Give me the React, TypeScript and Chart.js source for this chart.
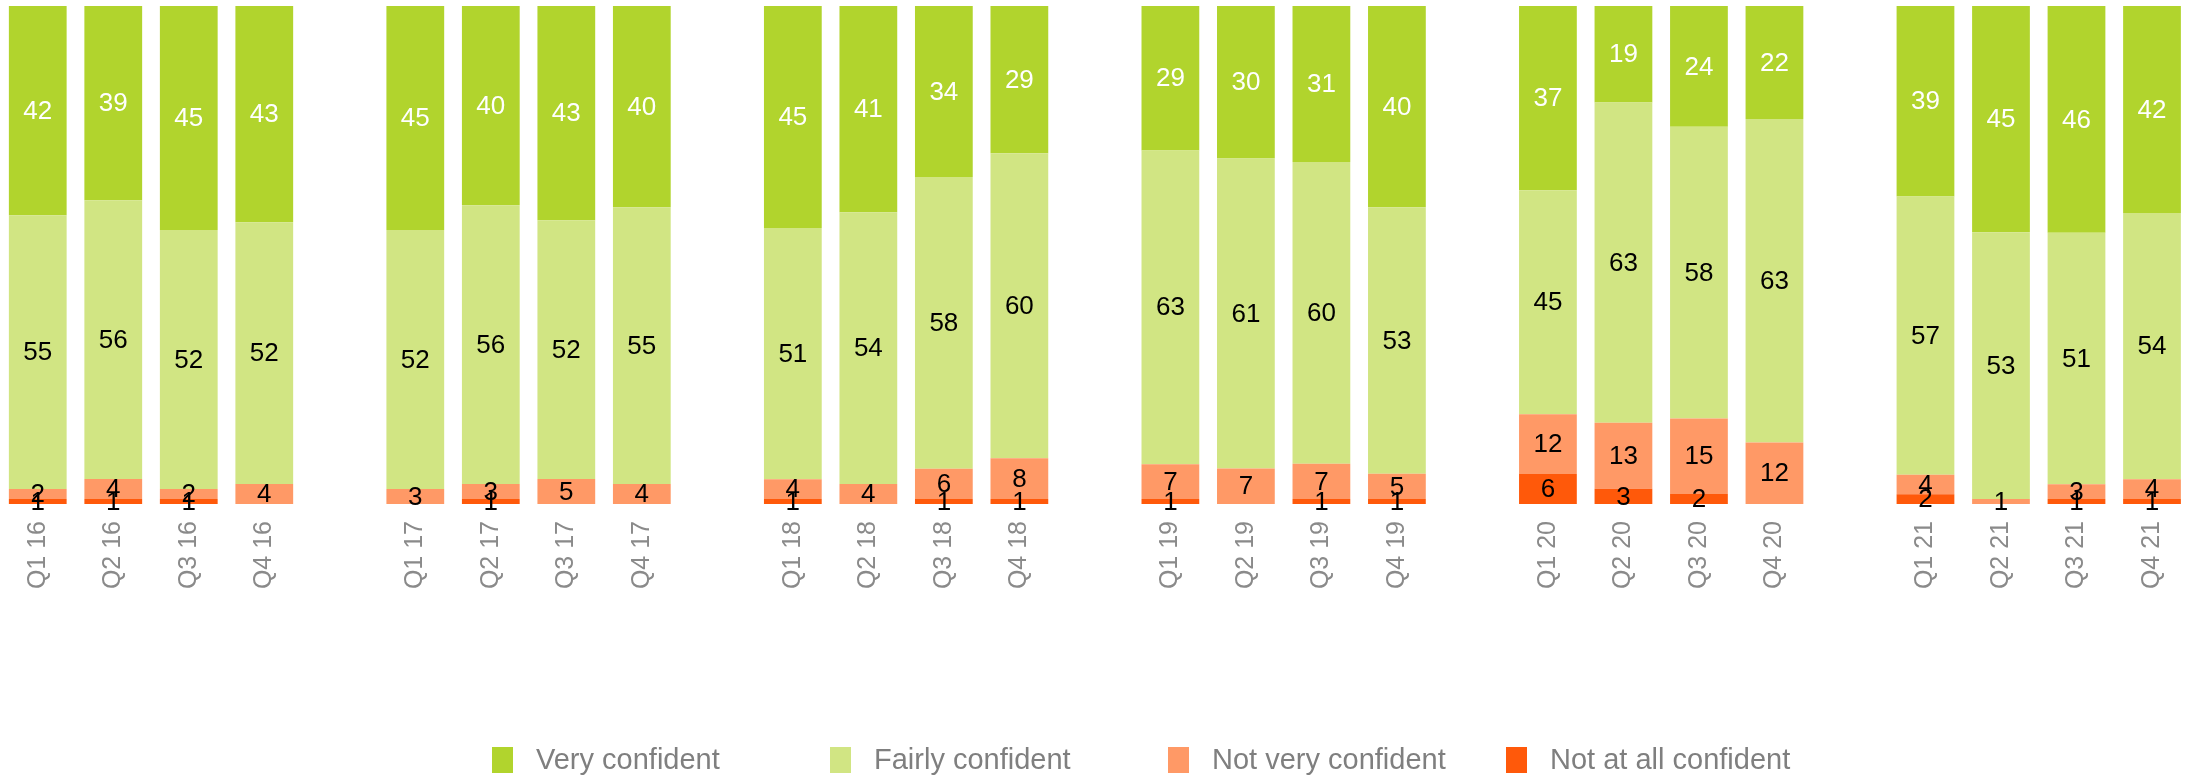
import React, { useEffect, useRef } from "react";
import { Chart, registerables } from "chart.js";

Chart.register(...registerables);

const categories = [
  "Q1 16", "Q2 16", "Q3 16", "Q4 16", "",
  "Q1 17", "Q2 17", "Q3 17", "Q4 17", "",
  "Q1 18", "Q2 18", "Q3 18", "Q4 18", "",
  "Q1 19", "Q2 19", "Q3 19", "Q4 19", "",
  "Q1 20", "Q2 20", "Q3 20", "Q4 20", "",
  "Q1 21", "Q2 21", "Q3 21", "Q4 21",
];

const veryConfident = [42, 39, 45, 43, null, 45, 40, 43, 40, null, 45, 41, 34, 29, null, 29, 30, 31, 40, null, 37, 19, 24, 22, null, 39, 45, 46, 42];
const fairlyConfident = [55, 56, 52, 52, null, 52, 56, 52, 55, null, 51, 54, 58, 60, null, 63, 61, 60, 53, null, 45, 63, 58, 63, null, 57, 53, 51, 54];
const notVeryConfident = [2, 4, 2, 4, null, 3, 3, 5, 4, null, 4, 4, 6, 8, null, 7, 7, 7, 5, null, 12, 13, 15, 12, null, 4, 1, 3, 4];
const notAtAllConfident = [1, 1, 1, 0, null, 0, 1, 0, 0, null, 1, 0, 1, 1, null, 1, 0, 1, 1, null, 6, 3, 2, 0, null, 2, 0, 1, 1];

const seriesNames = ["Not at all confident", "Not very confident", "Fairly confident", "Very confident"];
const seriesColors = ["#FF590A", "#FF9966", "#D1E583", "#B1D42D"];
const labelColors = ["#000000", "#000000", "#000000", "#FFFFFF"];

const FONT = "'Liberation Sans', Arial, sans-serif";

export default function App() {
  const ref = useRef<HTMLCanvasElement | null>(null);

  useEffect(() => {
    const raw = [notAtAllConfident, notVeryConfident, fairlyConfident, veryConfident];
    const totals = categories.map((_, i) =>
      raw.reduce((s, arr) => s + (arr[i] == null ? 0 : (arr[i] as number)), 0)
    );
    const datasets = raw.map((arr, k) => ({
      label: seriesNames[k],
      data: arr.map((v, i) => (v == null || totals[i] === 0 ? null : ((v as number) / totals[i]) * 100)),
      rawValues: arr,
      backgroundColor: seriesColors[k],
      borderWidth: 0,
      barPercentage: 0.765,
      categoryPercentage: 1,
    }));

    const valueLabels = {
      id: "valueLabels",
      afterDatasetsDraw(chart: any) {
        const ctx = chart.ctx;
        ctx.save();
        ctx.font = `26px ${FONT}`;
        ctx.textAlign = "center";
        ctx.textBaseline = "middle";
        chart.data.datasets.forEach((ds: any, k: number) => {
          const meta = chart.getDatasetMeta(k);
          meta.data.forEach((el: any, i: number) => {
            const v = ds.rawValues[i];
            if (v == null || v === 0) return;
            const y = (el.y + el.base) / 2;
            ctx.fillStyle = labelColors[k];
            ctx.fillText(String(v), el.x, y + 1);
          });
        });
        ctx.restore();
      },
    };

    const customLegend = {
      id: "customLegend",
      afterDraw(chart: any) {
        const ctx = chart.ctx;
        ctx.save();
        ctx.font = `29px ${FONT}`;
        ctx.textBaseline = "middle";
        ctx.textAlign = "left";
        const order = [3, 2, 1, 0];
        order.forEach((k, j) => {
          const x = 492 + j * 338;
          ctx.fillStyle = seriesColors[k];
          ctx.fillRect(x, 747, 21, 26);
          ctx.fillStyle = "#7F7F7F";
          ctx.fillText(seriesNames[k], x + 44, 761);
        });
        ctx.restore();
      },
    };

    const chart = new Chart(ref.current as HTMLCanvasElement, {
      type: "bar",
      data: { labels: categories, datasets: datasets as any },
      options: {
        animation: false,
        responsive: false,
        maintainAspectRatio: false,
        layout: { padding: { top: 6, left: 0, right: 0, bottom: 0 } },
        plugins: {
          legend: { display: false },
          tooltip: { enabled: false },
        },
        scales: {
          x: {
            stacked: true,
            grid: { display: false, drawTicks: false },
            border: { display: false },
            ticks: {
              autoSkip: false,
              maxRotation: 90,
              minRotation: 90,
              padding: 17,
              color: "#8A8A8A",
              font: { family: FONT, size: 25 },
            },
            afterFit(scale: any) {
              scale.height = 274;
            },
          },
          y: {
            stacked: true,
            display: false,
            min: 0,
            max: 100,
          },
        },
      },
      plugins: [valueLabels, customLegend],
    });
    return () => chart.destroy();
  }, []);

  return (
    <div style={{ position: "absolute", left: 0, top: 0, width: 2195, height: 778, overflow: "hidden", background: "#fff" }}>
      <canvas ref={ref} width={2199} height={778} style={{ display: "block", width: 2199, height: 778 }} />
    </div>
  );
}
